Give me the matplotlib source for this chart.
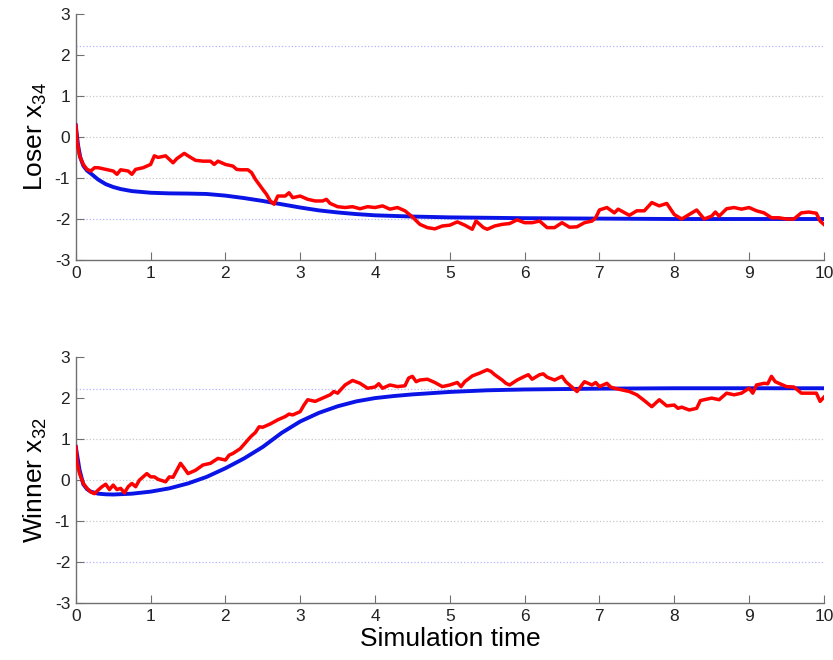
import matplotlib
matplotlib.use("Agg")
import matplotlib.pyplot as plt
import numpy as np

plt.rcParams['font.family'] = ['Liberation Sans', 'DejaVu Sans']
plt.rcParams['mathtext.default'] = 'regular'
plt.rcParams['axes.unicode_minus'] = False

# simulated trajectory (red) and mean-field solution (blue)
loser_t = [0, 0.02, 0.05, 0.1, 0.15, 0.2, 0.25, 0.3, 0.4, 0.5, 0.55, 0.6, 0.7, 0.75, 0.8, 0.9,
           1.0, 1.05, 1.1, 1.2, 1.3, 1.35, 1.45, 1.5, 1.6, 1.7, 1.8, 1.85, 1.9, 2.0, 2.1, 2.15,
           2.2, 2.3, 2.35, 2.4, 2.5, 2.55, 2.6, 2.65, 2.7, 2.8, 2.85, 2.9, 3.0, 3.1, 3.2, 3.3,
           3.35, 3.4, 3.5, 3.6, 3.7, 3.8, 3.9, 4.0, 4.1, 4.2, 4.3, 4.4, 4.5, 4.6, 4.7, 4.8,
           4.9, 5.0, 5.1, 5.2, 5.3, 5.35, 5.45, 5.5, 5.6, 5.7, 5.8, 5.9, 6.0, 6.1, 6.2, 6.3,
           6.4, 6.5, 6.6, 6.7, 6.8, 6.9, 6.95, 7.0, 7.1, 7.2, 7.25, 7.4, 7.5, 7.6, 7.7, 7.8,
           7.9, 8.0, 8.1, 8.2, 8.3, 8.4, 8.5, 8.55, 8.6, 8.7, 8.8, 8.9, 9.0, 9.1, 9.2, 9.3,
           9.4, 9.5, 9.6, 9.7, 9.8, 9.9, 9.95, 10.0]
loser_sim = [0.28, -0.14, -0.46, -0.67, -0.79, -0.83, -0.75, -0.75, -0.79, -0.83, -0.91, -0.80,
             -0.83, -0.91, -0.79, -0.75, -0.67, -0.46, -0.50, -0.46, -0.63, -0.53, -0.40, -0.46,
             -0.57, -0.59, -0.59, -0.67, -0.59, -0.67, -0.71, -0.79, -0.80, -0.80, -0.87, -1.03,
             -1.28, -1.40, -1.56, -1.64, -1.44, -1.44, -1.36, -1.48, -1.44, -1.52, -1.56, -1.56,
             -1.52, -1.62, -1.70, -1.72, -1.70, -1.75, -1.70, -1.72, -1.68, -1.76, -1.72, -1.80,
             -1.95, -2.13, -2.21, -2.24, -2.17, -2.15, -2.07, -2.15, -2.25, -2.05, -2.21, -2.25,
             -2.17, -2.13, -2.11, -2.02, -2.09, -2.09, -2.05, -2.21, -2.21, -2.09, -2.20, -2.19,
             -2.09, -2.05, -1.97, -1.78, -1.72, -1.85, -1.76, -1.91, -1.80, -1.80, -1.60, -1.68,
             -1.62, -1.89, -2.00, -1.89, -1.78, -2.00, -1.93, -1.83, -1.93, -1.75, -1.72, -1.76,
             -1.72, -1.80, -1.85, -1.97, -1.97, -2.00, -2.00, -1.85, -1.83, -1.86, -2.05, -2.13]

loser_mf_t = [0, 0.03, 0.06, 0.1, 0.15, 0.2, 0.3, 0.4, 0.5, 0.6, 0.75, 1.0, 1.25, 1.5, 1.75,
              2.0, 2.25, 2.5, 2.65, 2.75, 3.0, 3.25, 3.5, 3.75, 4.0, 4.5, 5.0, 6.0, 7.0, 8.0,
              9.0, 10.0]
loser_mf = [0.28, -0.2, -0.5, -0.7, -0.82, -0.89, -1.04, -1.15, -1.22, -1.27, -1.32, -1.36,
            -1.375, -1.38, -1.39, -1.43, -1.49, -1.56, -1.61, -1.64, -1.72, -1.79, -1.84, -1.88,
            -1.91, -1.94, -1.96, -1.98, -1.99, -2.0, -2.0, -2.0]

winner_t = [0, 0.02, 0.05, 0.1, 0.15, 0.2, 0.25, 0.3, 0.35, 0.4, 0.45, 0.5, 0.55, 0.6, 0.65,
            0.7, 0.75, 0.8, 0.85, 0.9, 0.95, 1.0, 1.05, 1.1, 1.2, 1.25, 1.3, 1.35, 1.4, 1.45,
            1.5, 1.6, 1.7, 1.8, 1.9, 2.0, 2.05, 2.1, 2.2, 2.3, 2.35, 2.4, 2.45, 2.5, 2.6, 2.7,
            2.8, 2.85, 2.9, 3.0, 3.05, 3.1, 3.2, 3.3, 3.4, 3.45, 3.5, 3.6, 3.7, 3.8, 3.9, 4.0,
            4.05, 4.1, 4.2, 4.3, 4.4, 4.45, 4.5, 4.55, 4.6, 4.7, 4.8, 4.9, 5.0, 5.1, 5.15, 5.2,
            5.3, 5.4, 5.5, 5.55, 5.6, 5.7, 5.75, 5.8, 5.9, 6.0, 6.05, 6.1, 6.2, 6.25, 6.3, 6.4,
            6.5, 6.55, 6.6, 6.7, 6.75, 6.8, 6.9, 6.95, 7.0, 7.1, 7.15, 7.2, 7.3, 7.4, 7.5, 7.6,
            7.7, 7.8, 7.9, 8.0, 8.05, 8.1, 8.2, 8.3, 8.35, 8.4, 8.5, 8.6, 8.7, 8.8, 8.9, 9.0,
            9.05, 9.1, 9.2, 9.25, 9.3, 9.35, 9.4, 9.5, 9.6, 9.7, 9.8, 9.9, 9.95, 10.0]
winner_sim = [0.81, 0.41, 0.16, -0.08, -0.20, -0.29, -0.33, -0.24, -0.16, -0.10, -0.23, -0.12,
              -0.23, -0.20, -0.31, -0.16, -0.08, -0.16, 0.0, 0.08, 0.16, 0.08, 0.08, 0.02, -0.04,
              0.08, 0.07, 0.24, 0.41, 0.29, 0.16, 0.24, 0.37, 0.41, 0.53, 0.49, 0.61, 0.65, 0.77,
              0.98, 1.08, 1.16, 1.30, 1.29, 1.37, 1.47, 1.55, 1.61, 1.59, 1.67, 1.83, 1.96, 1.92,
              2.00, 2.08, 2.16, 2.12, 2.32, 2.43, 2.36, 2.24, 2.27, 2.35, 2.24, 2.32, 2.28, 2.30,
              2.49, 2.53, 2.40, 2.44, 2.46, 2.38, 2.28, 2.32, 2.38, 2.28, 2.40, 2.54, 2.61, 2.69,
              2.65, 2.57, 2.44, 2.36, 2.32, 2.44, 2.53, 2.57, 2.46, 2.57, 2.59, 2.51, 2.44, 2.53,
              2.40, 2.32, 2.16, 2.28, 2.40, 2.32, 2.38, 2.28, 2.36, 2.27, 2.24, 2.20, 2.16, 2.08,
              1.94, 1.79, 1.96, 1.81, 1.83, 1.75, 1.78, 1.71, 1.75, 1.94, 1.96, 2.00, 1.96, 2.12,
              2.08, 2.12, 2.24, 2.12, 2.32, 2.36, 2.35, 2.53, 2.40, 2.36, 2.28, 2.27, 2.12, 2.12,
              2.12, 1.92, 2.02]

winner_mf_t = [0, 0.05, 0.1, 0.15, 0.2, 0.3, 0.4, 0.5, 0.75, 1.0, 1.25, 1.5, 1.75, 2.0, 2.25,
               2.5, 2.75, 3.0, 3.25, 3.5, 3.75, 4.0, 4.25, 4.5, 5.0, 5.5, 6.0, 7.0, 8.0, 10.0]
winner_mf = [0.81, 0.25, -0.1, -0.22, -0.28, -0.33, -0.345, -0.35, -0.33, -0.28, -0.20, -0.08,
             0.08, 0.29, 0.53, 0.81, 1.15, 1.43, 1.64, 1.80, 1.92, 2.00, 2.05, 2.09, 2.15, 2.19,
             2.21, 2.23, 2.24, 2.24]

panels = [
    (loser_t, loser_sim, loser_mf_t, loser_mf, 'Loser x$_{34}$'),
    (winner_t, winner_sim, winner_mf_t, winner_mf, 'Winner x$_{32}$'),
]

fig = plt.figure(figsize=(8.33, 6.6), dpi=100)
boxes = [[0.091, 0.606, 0.898, 0.373], [0.091, 0.086, 0.898, 0.373]]
axis_grey = '#707070'

for box, (ts, sim, mt, mf, label) in zip(boxes, panels):
    ax = fig.add_axes(box)
    # reference lines
    for yv, col in [(2.22, '#b4b4ff'), (1, '#c8c8c8'), (0, '#c8c8c8'),
                    (-1, '#c8c8c8'), (-2, '#b4b4ff')]:
        ax.axhline(yv, color=col, lw=0.9, ls=':', zorder=1)
    ax.plot(mt, mf, color='#0a14e6', lw=2.8, zorder=3)
    ax.plot(ts, sim, color='#ff0000', lw=2.5, zorder=4)
    ax.set_xlim(0, 10)
    ax.set_ylim(-3, 3)
    ax.set_xticks(range(0, 11))
    ax.set_yticks(range(-3, 4))
    for s in ['top', 'right']:
        ax.spines[s].set_visible(False)
    for s in ['left', 'bottom']:
        ax.spines[s].set_color(axis_grey)
        ax.spines[s].set_linewidth(1.0)
    ax.tick_params(direction='in', length=6, color=axis_grey, labelsize=12.5,
                   labelcolor='#222222', pad=4)
    ax.set_ylabel(label, fontsize=19, labelpad=4)

ax.set_xlabel('Simulation time', fontsize=19, labelpad=2)

plt.savefig('out.png', dpi=100)
